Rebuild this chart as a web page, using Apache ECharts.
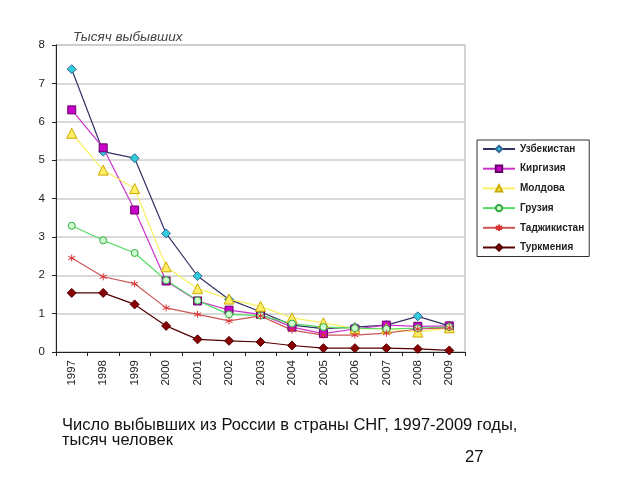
<!DOCTYPE html>
<html><head><meta charset="utf-8">
<script src="https://cdn.jsdelivr.net/npm/echarts@6/dist/echarts.min.js"></script>
<style>html,body{margin:0;padding:0;background:#fff}#c{width:640px;height:480px}</style>
</head><body><div id="c"></div>
<script>
const years = ['1997','1998','1999','2000','2001','2002','2003','2004','2005','2006','2007','2008','2009'];
const uzbekistan = [7.37,5.22,5.05,3.09,1.98,1.37,1.05,0.70,0.61,0.65,0.70,0.93,0.68];
const kirgizia   = [6.31,5.32,3.70,1.85,1.33,1.09,0.98,0.65,0.48,0.60,0.70,0.67,0.68];
const moldova    = [5.70,4.74,4.26,2.22,1.65,1.38,1.19,0.89,0.76,0.61,0.61,0.52,0.63];
const gruzia     = [3.29,2.91,2.58,1.87,1.34,0.98,0.95,0.74,0.65,0.62,0.60,0.62,0.65];
const tajikistan = [2.45,1.96,1.78,1.15,0.98,0.81,0.94,0.57,0.44,0.44,0.49,0.60,0.63];
const turkmenia  = [1.54,1.54,1.24,0.68,0.33,0.29,0.26,0.17,0.10,0.10,0.10,0.08,0.04];
const names = ['Узбекистан','Киргизия','Молдова','Грузия','Таджикистан','Туркмения'];

const star = 'path://M5,0L5,10M0.7,2.5L9.3,7.5M0.7,7.5L9.3,2.5';
function ser(name, data, lineColor, symbol, size, fill, border){
  return {name, type:'line', data, symbol, symbolSize:size, showSymbol:true,
    lineStyle:{color:lineColor, width:1.2},
    itemStyle:{color:fill, borderColor:border, borderWidth:1},
    emphasis:{disabled:true}, animation:false};
}
const chart = echarts.init(document.getElementById('c'));
chart.setOption({
  animation:false,
  textStyle:{fontFamily:'Liberation Sans, Arial, sans-serif'},
  title:[
    {text:'Тысяч выбывших', left:68, top:25, textStyle:{fontSize:13.5, fontStyle:'italic', fontWeight:'normal', color:'#444'}},
    {text:'Число выбывших из России в страны СНГ, 1997-2009 годы,\nтысяч человек', left:57, top:413,
      textStyle:{fontSize:16.5, fontWeight:'normal', color:'#111', lineHeight:15}},
    {text:'27', left:460, top:444, textStyle:{fontSize:16.5, fontWeight:'normal', color:'#111'}}
  ],
  grid:{left:56, top:45, width:409, height:307, show:true, borderColor:'#aaa', borderWidth:1, backgroundColor:'#fff'},
  legend:{orient:'vertical', left:477, top:140, width:121, height:118, padding:[3,5,3,5],
    borderColor:'#333', borderWidth:1, itemWidth:32, itemHeight:8, itemGap:7.7,
    textStyle:{fontSize:10, fontWeight:'bold', color:'#222', lineHeight:12}, data:names},
  xAxis:{type:'category', data:years, boundaryGap:true,
    axisLine:{lineStyle:{color:'#222'}}, axisTick:{show:true, lineStyle:{color:'#222'}, length:4},
    axisLabel:{rotate:90, fontSize:11.5, color:'#222', margin:8, interval:0}},
  yAxis:{type:'value', min:0, max:8, interval:1,
    axisLine:{show:true, lineStyle:{color:'#222'}}, axisTick:{show:true, lineStyle:{color:'#222'}, length:4},
    axisLabel:{fontSize:11.5, color:'#222', margin:11},
    splitLine:{lineStyle:{color:'#ccc', width:1.5}}},
  series:[
    ser(names[0], uzbekistan, '#333366', 'diamond', 9, '#33CCDD', '#336699'),
    ser(names[1], kirgizia, '#CC33CC', 'rect', 8, '#CC00CC', '#660066'),
    ser(names[2], moldova, '#F8F060', 'triangle', 10, '#FFEE66', '#CCAA00'),
    ser(names[3], gruzia, '#55DD66', 'circle', 7, '#CCFFCC', '#33AA44'),
    ser(names[4], tajikistan, '#CC5555', star, 7, '#DD3333', '#DD3333'),
    ser(names[5], turkmenia, '#550000', 'diamond', 9, '#880000', '#550000')
  ]
});
</script></body></html>
